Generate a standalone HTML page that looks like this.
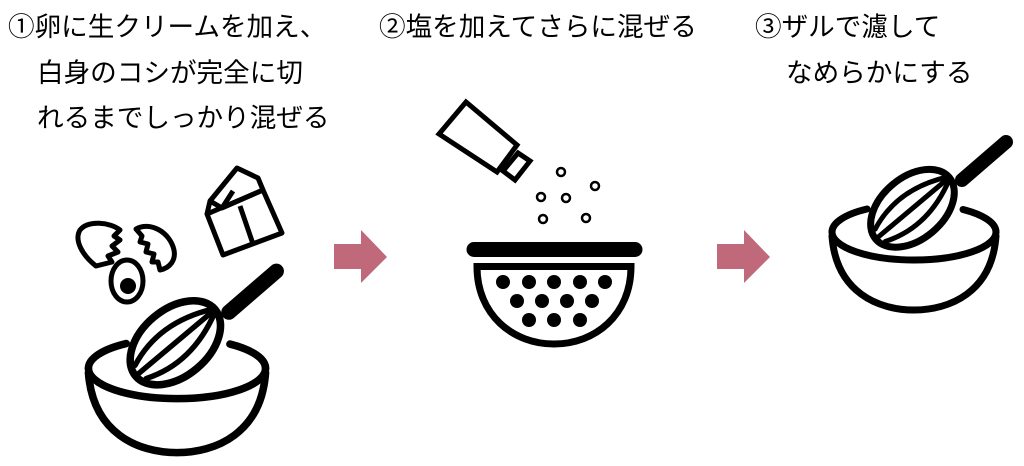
<!DOCTYPE html>
<html><head><meta charset="utf-8"><style>
html,body{margin:0;padding:0;background:#fff;}
body{width:1024px;height:466px;overflow:hidden;position:relative;font-family:"Liberation Sans","Noto Sans CJK JP",sans-serif;}
.t{position:absolute;font-size:26.6px;line-height:28px;color:#000;white-space:nowrap;}
svg{position:absolute;left:0;top:0;}
</style></head><body>
<div class="t" style="left:8px;top:13px">①卵に生クリームを加え、</div>
<div class="t" style="left:37px;top:59px">白身のコシが完全に切</div>
<div class="t" style="left:37px;top:104px">れるまでしっかり混ぜる</div>
<div class="t" style="left:379px;top:13px">②塩を加えてさらに混ぜる</div>
<div class="t" style="left:755px;top:13px">③ザルで濾して</div>
<div class="t" style="left:786px;top:59px">なめらかにする</div>
<svg width="1024" height="466" viewBox="0 0 1024 466">
<defs>
<g id="wb" fill="none" stroke="#000" stroke-width="7" stroke-linecap="round">
  <path d="M832,232 A82,28 0 0 1 867,209"/>
  <path d="M963,209.5 A82,28 0 0 1 996,232"/>
  <path d="M832,232 A82,28 0 0 0 996,232"/>
  <path d="M832,236 C836,292 878,310 914,310 C950,310 992,292 996,236"/>
  <line x1="962" y1="180" x2="1006" y2="142" stroke-width="14"/>
  <g transform="rotate(-40 914 207)">
    <ellipse cx="912" cy="207" rx="48" ry="31" fill="#fff"/>
    <line x1="866" y1="207" x2="960" y2="207" stroke-width="5"/>
    <path d="M870,215 Q912,232 958,209" stroke-width="5"/>
    <path d="M870,199 Q912,182 958,205" stroke-width="5"/>
  </g>
</g>
</defs>
<use href="#wb"/>
<use href="#wb" transform="translate(177,336) scale(1.08) translate(-914,-202)"/>
<g fill="none" stroke="#000" stroke-width="5" stroke-linejoin="round">
  <path d="M96,266 C82,255 74,240 80,230 C88,220 110,222 120,230 L114,236 L120,240 L112,246 L118,252 L108,256 L112,262 Z"/>
  <path d="M136,229 C150,221 170,232 174,250 C176,260 170,268 160,270 L158,262 L152,262 L154,254 L146,252 L148,244 L140,242 L142,236 Z"/>
  <ellipse cx="127" cy="281" rx="16" ry="21"/>
  <path d="M207,214 L223,255 L282,233 L263,190 Z"/>
  <path d="M207,214 L210,201 L222,208 L263,190"/>
  <path d="M210,201 L237,168 L258,178 L263,190"/>
  <path d="M222,208 L233,191"/>
  <path d="M240,206 L253,244"/>
</g>
<circle cx="128" cy="286" r="8" fill="#000"/>
<g fill="none" stroke="#000" stroke-width="5" stroke-linejoin="miter">
  <path d="M439,134 L466,102 L517,145 L497,172 Z"/>
  <path d="M503,171 L518,153 L530,161 L515,180 Z"/>
</g>
<g fill="#fff" stroke="#000" stroke-width="2.5">
  <circle cx="561" cy="172" r="4"/><circle cx="595" cy="186" r="4"/>
  <circle cx="541" cy="197" r="4"/><circle cx="566" cy="198" r="4"/>
  <circle cx="543" cy="219" r="4"/><circle cx="586" cy="218" r="4"/>
</g>
<line x1="474" y1="249.5" x2="635" y2="249.5" stroke="#000" stroke-width="15" stroke-linecap="round"/>
<path d="M477,266.5 L631,266.5 C631,315 595,344 554,344 C513,344 477,315 477,266.5 Z" fill="none" stroke="#000" stroke-width="7"/>
<g fill="#000">
  <circle cx="503" cy="282" r="7"/><circle cx="529" cy="282" r="7"/><circle cx="554" cy="282" r="7"/><circle cx="580" cy="282" r="7"/><circle cx="605" cy="282" r="7"/>
  <circle cx="517" cy="301" r="7"/><circle cx="542" cy="301" r="7"/><circle cx="567" cy="301" r="7"/><circle cx="592" cy="301" r="7"/>
  <circle cx="529" cy="320" r="7"/><circle cx="554" cy="320" r="7"/><circle cx="580" cy="320" r="7"/>
</g>
<polygon points="334,244 361,244 361,230 387,257 361,283 361,269 334,269" fill="#c0697a"/>
<polygon points="717,244 744,244 744,230 770,257 744,283 744,269 717,269" fill="#c0697a"/>
</svg>
</body></html>
